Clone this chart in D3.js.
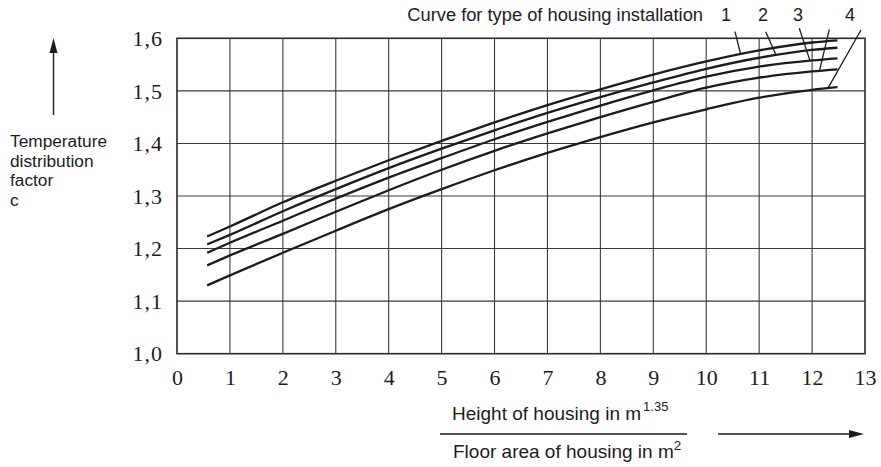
<!DOCTYPE html>
<html>
<head>
<meta charset="utf-8">
<script src="https://cdn.jsdelivr.net/npm/d3@7"></script>
<style>
  html, body { margin: 0; padding: 0; background: #fff; }
  svg { display: block; }
</style>
</head>
<body>
<script>
// Temperature distribution factor c versus height^1.35 / floor area
const xValues = [0.57, 1, 2, 3, 4, 5, 6, 7, 8, 9, 10, 11, 12, 12.48];
const curve1 = [1.223, 1.242, 1.288, 1.329, 1.368, 1.405, 1.440, 1.473, 1.503, 1.531, 1.556, 1.577, 1.592, 1.596];
const curve2 = [1.208, 1.226, 1.271, 1.313, 1.353, 1.390, 1.425, 1.458, 1.488, 1.516, 1.542, 1.563, 1.578, 1.582];
const curve3 = [1.192, 1.211, 1.253, 1.295, 1.335, 1.372, 1.408, 1.441, 1.472, 1.501, 1.527, 1.546, 1.558, 1.562];
const curve4 = [1.168, 1.187, 1.228, 1.270, 1.311, 1.350, 1.386, 1.419, 1.450, 1.479, 1.506, 1.525, 1.537, 1.541];
const curve5 = [1.130, 1.149, 1.192, 1.234, 1.275, 1.313, 1.349, 1.382, 1.412, 1.440, 1.465, 1.487, 1.502, 1.507];
const curves = [curve1, curve2, curve3, curve4, curve5];

const xTicks = [0, 1, 2, 3, 4, 5, 6, 7, 8, 9, 10, 11, 12, 13];
const yTicks = [1.0, 1.1, 1.2, 1.3, 1.4, 1.5, 1.6];

// Curve type labels and where their leader lines touch the curves
const typeLabels = ["1", "2", "3", "4"];
const leaderCurve = [0, 1, 2, 3, 4];
const leaderAtX = [10.65, 11.32, 11.96, 12.14, 12.30];

const W = 881, H = 467;
const svg = d3.select("body").append("svg").attr("width", W).attr("height", H);

const x = d3.scaleLinear().domain([0, 13]).range([177, 865]);
const y = d3.scaleLinear().domain([1.0, 1.6]).range([353.7, 38.3]);

const serif = "'Liberation Serif', 'Times New Roman', serif";
const sans = "'Liberation Sans', Arial, sans-serif";
const ink = "#1c1c1c";

// Grid
const grid = svg.append("g");
grid.selectAll("line.v").data(xTicks.slice(1, -1)).join("line")
  .attr("x1", d => x(d)).attr("x2", d => x(d))
  .attr("y1", y(1.0)).attr("y2", y(1.6))
  .attr("stroke", "#3a3a3a").attr("stroke-width", 1.1);
grid.selectAll("line.h").data(yTicks.slice(1, -1)).join("line")
  .attr("x1", x(0)).attr("x2", x(13))
  .attr("y1", d => y(d)).attr("y2", d => y(d))
  .attr("stroke", "#3a3a3a").attr("stroke-width", 1.1);
svg.append("rect")
  .attr("x", x(0)).attr("y", y(1.6))
  .attr("width", x(13) - x(0)).attr("height", y(1.0) - y(1.6))
  .attr("fill", "none").attr("stroke", "#2a2a2a").attr("stroke-width", 1.6);

// Axes (labels only, no tick marks)
const fmt = d => d3.format(".1f")(d).replace(".", ",");
const xAxis = svg.append("g").attr("transform", `translate(0,${y(1.0)})`)
  .call(d3.axisBottom(x).tickValues(xTicks).tickSize(0).tickPadding(31).tickFormat(d3.format("d")));
const yAxis = svg.append("g").attr("transform", `translate(${x(0)},0)`)
  .call(d3.axisLeft(y).tickValues(yTicks).tickSize(0).tickPadding(14).tickFormat(fmt));
[xAxis, yAxis].forEach(a => {
  a.select(".domain").remove();
  a.selectAll("text").attr("font-family", serif).attr("font-size", 22).attr("fill", ink);
});
xAxis.selectAll("text").attr("dy", "0");
yAxis.selectAll("text").attr("dy", "0.33em").attr("letter-spacing", 1);

// Curves
const line = d3.line().x(d => x(d[0])).y(d => y(d[1])).curve(d3.curveMonotoneX);
curves.forEach(vals => {
  svg.append("path")
    .datum(xValues.map((v, i) => [v, vals[i]]))
    .attr("d", line)
    .attr("fill", "none").attr("stroke", ink).attr("stroke-width", 2.3)
    .attr("stroke-linecap", "butt");
});

// Curve legend title and type numbers
svg.append("text").attr("x", 703).attr("y", 21)
  .attr("text-anchor", "end").attr("font-family", sans).attr("font-size", 18.3).attr("fill", ink)
  .text("Curve for type of housing installation");
const labelCx = [726, 763, 798, 850];
svg.selectAll("text.type").data(typeLabels).join("text")
  .attr("x", (d, i) => labelCx[i]).attr("y", 21)
  .attr("text-anchor", "middle").attr("font-family", sans).attr("font-size", 18).attr("fill", ink)
  .text(d => d);

// Leader lines from the type numbers down to each curve
const leaderTop = [[735, 31.7], [765.7, 31.7], [799.3, 28.3], [829.3, 29.3], [861, 30]];
const valueAt = (vals, xv) => {
  const i = Math.max(1, Math.min(xValues.length - 1, d3.bisectLeft(xValues, xv)));
  const t = (xv - xValues[i - 1]) / (xValues[i] - xValues[i - 1]);
  return vals[i - 1] + t * (vals[i] - vals[i - 1]);
};
leaderCurve.forEach((ci, k) => {
  const xv = leaderAtX[k];
  svg.append("line")
    .attr("x1", leaderTop[k][0]).attr("y1", leaderTop[k][1])
    .attr("x2", x(xv)).attr("y2", y(valueAt(curves[ci], xv)))
    .attr("stroke", ink).attr("stroke-width", 1.3);
});

// Y axis caption with upward arrow
svg.append("line").attr("x1", 53.5).attr("y1", 115).attr("x2", 53.5).attr("y2", 50)
  .attr("stroke", ink).attr("stroke-width", 1.4);
svg.append("path").attr("d", "M53.5,38 L49.5,53 L57.5,53 Z").attr("fill", ink);
const yCap = svg.append("text").attr("font-family", sans).attr("font-size", 17.3).attr("fill", ink);
["Temperature", "distribution", "factor", "c"].forEach((t, i) => {
  yCap.append("tspan").attr("x", 10).attr("y", 147 + i * 19.5).text(t);
});

// X axis caption as a fraction with rightward arrow
const num = svg.append("text").attr("x", 452).attr("y", 420)
  .attr("font-family", sans).attr("font-size", 19).attr("fill", ink);
num.append("tspan").text("Height of housing in m");
num.append("tspan").attr("dx", 2).attr("dy", -9).attr("font-size", 13).text("1.35");
svg.append("line").attr("x1", 440).attr("x2", 687).attr("y1", 434).attr("y2", 434)
  .attr("stroke", ink).attr("stroke-width", 1.4);
const den = svg.append("text").attr("x", 453).attr("y", 458)
  .attr("font-family", sans).attr("font-size", 19).attr("fill", ink);
den.append("tspan").text("Floor area of housing in m");
den.append("tspan").attr("dy", -8).attr("font-size", 13.5).text("2");
svg.append("line").attr("x1", 718).attr("x2", 852).attr("y1", 434).attr("y2", 434)
  .attr("stroke", ink).attr("stroke-width", 1.4);
svg.append("path").attr("d", "M864,434 L849,430 L849,438 Z").attr("fill", ink);
</script>
</body>
</html>
